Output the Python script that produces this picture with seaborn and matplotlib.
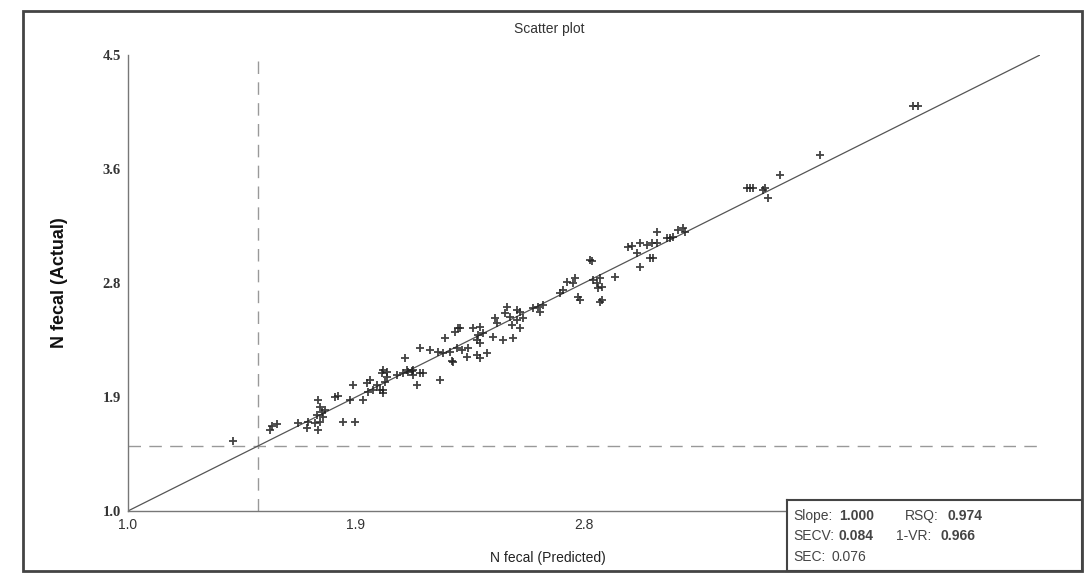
import numpy as np
import pandas as pd
import matplotlib
matplotlib.use("Agg")
import matplotlib.pyplot as plt
import seaborn as sns
from matplotlib.patches import Rectangle

# N fecal: predicted vs actual
predicted = [
    1.403, 1.553, 1.572, 1.545, 1.652, 1.691, 1.687, 1.729,
    1.729, 1.737, 1.744, 1.725, 1.748, 1.737, 1.718, 1.756,
    1.794, 1.806, 1.825, 1.871, 1.852, 1.863, 1.902,
    1.917, 1.929, 1.955, 1.940, 1.921, 1.967, 1.979,
    1.975, 1.994, 2.032, 2.055, 2.074, 2.094, 2.120,
    2.109, 2.197,
    1.979, 1.994, 1.986, 1.979, 2.063, 2.071, 2.090, 2.094, 2.132,
    2.120, 2.159, 2.190, 2.209, 2.236, 2.243, 2.247, 2.216,
    2.262, 2.282, 2.305, 2.274, 2.255, 2.266, 2.301,
    2.339, 2.351, 2.378, 2.324, 2.351, 2.343, 2.362, 2.339, 2.351,
    2.401, 2.416, 2.408, 2.439, 2.477, 2.454, 2.447, 2.466,
    2.474, 2.493, 2.516, 2.504, 2.554, 2.573, 2.592, 2.581,
    2.493, 2.504, 2.734, 2.811,
    2.685, 2.715, 2.708, 2.669, 2.658, 2.727, 2.773, 2.781,
    2.784, 2.800, 2.811, 2.819, 2.804, 2.819, 2.869,
    2.919, 2.934, 2.965, 2.992, 3.011, 2.965, 2.953, 3.003, 3.015,
    3.030, 3.030, 3.068, 3.080, 3.091, 3.111, 3.130, 3.137,
    3.375, 3.387, 3.398, 3.437, 3.444, 3.456, 3.502, 3.655,
    4.012, 4.031,
]
actual = [
    1.537, 1.652, 1.668, 1.622, 1.675, 1.683, 1.637, 1.622,
    1.852, 1.798, 1.760, 1.737, 1.721, 1.683, 1.675, 1.775,
    1.875, 1.883, 1.683, 1.683, 1.852, 1.967, 1.852,
    1.982, 2.005, 1.967, 1.929, 1.913, 1.929, 1.906,
    2.059, 2.067, 2.044, 2.059, 2.067, 2.044, 2.059,
    1.967, 2.005,
    2.082, 2.028, 1.990, 1.929, 2.174, 2.082, 2.074, 2.082, 2.059,
    2.251, 2.236, 2.220, 2.213, 2.220, 2.151, 2.144, 2.328,
    2.251, 2.236, 2.251, 2.404, 2.374, 2.404, 2.182,
    2.197, 2.174, 2.213, 2.404, 2.412, 2.351, 2.366, 2.312, 2.289,
    2.335, 2.443, 2.481, 2.312, 2.328, 2.566, 2.520, 2.489,
    2.427, 2.466, 2.481, 2.404, 2.558, 2.566, 2.581, 2.527,
    2.543, 2.527, 2.619, 2.604,
    2.757, 2.788, 2.750, 2.696, 2.673, 2.642, 2.926, 2.919,
    2.773, 2.750, 2.788, 2.719, 2.711, 2.619, 2.796,
    3.026, 3.034, 3.057, 3.041, 3.057, 2.873, 2.980, 2.942, 2.942,
    3.141, 3.057, 3.095, 3.095, 3.103, 3.157, 3.172, 3.141,
    3.479, 3.479, 3.479, 3.464, 3.479, 3.402, 3.579, 3.732,
    4.108, 4.108,
]

tick_values = [1.0, 1.875, 2.75, 3.625, 4.5]
tick_labels = ["1.0", "1.9", "2.8", "3.6", "4.5"]
cutoff = 1.5

df = pd.DataFrame({"predicted": predicted, "actual": actual})

sns.set_style("white")
plt.rcParams["font.family"] = ["Liberation Sans", "DejaVu Sans"]

fig = plt.figure(figsize=(10.9, 5.74), dpi=100)
ax = fig.add_axes([0.1174, 0.1098, 0.8367, 0.7944])

# outer frame around the whole figure
fig.patches.append(Rectangle((23 / 1090, 3 / 574), 1059 / 1090, 560 / 574,
                             transform=fig.transFigure, fill=False,
                             edgecolor="#444444", linewidth=2))

# 1:1 line and the dashed cut-off lines
ax.plot([1.0, 4.5], [1.0, 4.5], color="#555555", linewidth=0.9, zorder=2)
ax.axvline(cutoff, color="#999999", linewidth=1, dashes=(9, 6), zorder=1)
ax.axhline(cutoff, color="#999999", linewidth=1, dashes=(9, 6), zorder=1)

sns.scatterplot(data=df, x="predicted", y="actual", marker="+", s=30,
                color="#222222", linewidth=1.3, alpha=0.85, ax=ax, zorder=3)

ax.set_xlim(1.0, 4.5)
ax.set_ylim(1.0, 4.5)
ax.set_xticks(tick_values)
ax.set_xticklabels(tick_labels, fontsize=10, color="#333333")
# the last two x labels sit under the stats box in the original
for lab in ax.get_xticklabels()[3:]:
    lab.set_visible(False)
ax.set_yticks(tick_values)
ax.set_yticklabels(tick_labels, fontsize=10.5, color="#333333",
                   family="Liberation Serif", fontweight="bold")
ax.tick_params(direction="out", length=3, width=0.8, color="#888888", pad=2)
for side in ["top", "right"]:
    ax.spines[side].set_visible(False)
for side in ["left", "bottom"]:
    ax.spines[side].set_color("#777777")
    ax.spines[side].set_linewidth(1)

ax.set_xlabel("N fecal (Predicted)", fontsize=10, color="#222222")
ax.xaxis.set_label_coords(0.46, -0.088)
ax.set_ylabel("N fecal (Actual)", fontsize=13, fontweight="bold", color="#111111")
ax.yaxis.set_label_coords(-0.066, 0.5)
ax.set_title("Scatter plot", fontsize=10, color="#333333", x=0.462, y=1.03)

# statistics box in the lower right corner
box = fig.add_axes([787 / 1090, 3 / 574, 295 / 1090, 71 / 574], zorder=5)
box.set_xticks([])
box.set_yticks([])
box.set_facecolor("white")
for s in box.spines.values():
    s.set_color("#444444")
    s.set_linewidth(1.5)
stats = [
    [("Slope:", 0.02, "normal"), ("1.000", 0.175, "bold"), ("RSQ:", 0.40, "normal"), ("0.974", 0.545, "bold")],
    [("SECV:", 0.02, "normal"), ("0.084", 0.175, "bold"), ("1-VR:", 0.37, "normal"), ("0.966", 0.52, "bold")],
    [("SEC:", 0.02, "normal"), ("0.076", 0.15, "normal")],
]
for row, yy in zip(stats, [0.78, 0.49, 0.20]):
    for txt, xx, w in row:
        box.text(xx, yy, txt, fontsize=10, fontweight=w, color="#444444",
                 va="center", ha="left", transform=box.transAxes)

fig.savefig("out.png", dpi=100)
